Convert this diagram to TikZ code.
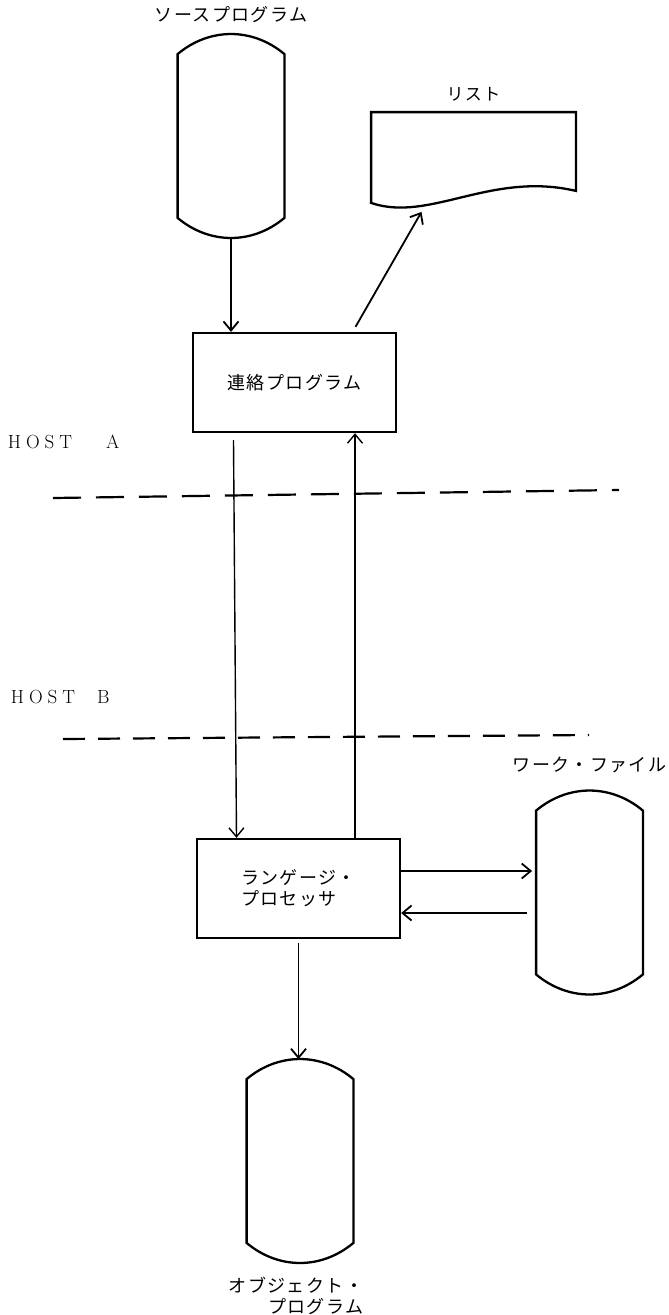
\documentclass[tikz,border=0pt]{standalone}
\usepackage{fontspec}
\usepackage{tikz}
\usetikzlibrary{arrows.meta,positioning}
\newfontfamily\jp[LetterSpace=8]{Noto Sans CJK JP}
\newcommand\drumline[1]{%
  \draw[shape line] ([yshift=-20pt]#1.north west) to[bend left=40] ([yshift=-20pt]#1.north east)
    -- ([yshift=20pt]#1.south east) to[bend left=40] ([yshift=20pt]#1.south west) -- cycle;}

\begin{document}
\begin{tikzpicture}[
    x=1pt,y=-1pt,
    box/.style={rectangle,draw,line width=2.3pt,minimum width=203pt,minimum height=99pt,
                align=left,font=\jp\fontsize{18}{21}\selectfont},
    drum/.style={rectangle,minimum width=105pt,minimum height=202pt,inner sep=0pt},
    lbl/.style={inner sep=0pt,font=\jp\fontsize{18}{21}\selectfont},
    host/.style={anchor=west,inner sep=0pt,font=\fontsize{19}{23}\selectfont},
    hostline/.style={line width=2.2pt,dash pattern=on 28pt off 15pt},
    shape line/.style={line width=2.3pt},
    >={Straight Barb[length=9pt,width=15pt]},line width=1.8pt
  ]
    \useasboundingbox (0,0) rectangle (669,1315);

    \node[drum] (src) at (231,136) {};
    \drumline{src}
    \node[lbl,above=10pt of src] (srclbl) {ソースプログラム};

    \node[rectangle,minimum width=203pt,minimum height=89pt] (lst) at (473.5,157.5) {};
    \draw[shape line] (lst.north west) -- (lst.north east) -- ([yshift=12pt]lst.south east)
      .. controls ([shift={(-85,-32)}]lst.south east) and ([shift={(58,20)}]lst.south west) .. (lst.south west) -- cycle;
    \node[lbl,above=10pt of lst,font=\jp\fontsize{17}{20}\selectfont] (lstlbl) {リスト};

    \node[box] (lnk) at (294.5,382.5) {連絡プログラム};
    \node[box] (lp) at (298.5,888.5) {ランゲージ・\\プロセッサ};

    \node[drum] (wrk) at (589.5,892.5) {};
    \drumline{wrk}
    \node[lbl,above=17pt of wrk] (wrklbl) {ワーク・ファイル};

    \node[drum] (obj) at (300,1161) {};
    \drumline{obj}
    \node[lbl,align=right,below=13pt of obj,xshift=-4pt] (objlbl) {オブジェクト・\\プログラム};

    \node[host] (hosta) at (7,442) {H\hspace{5pt}O\hspace{5pt}S\hspace{5pt}T\hspace{34pt}A};
    \node[host] (hostb) at (10,697) {H\hspace{5pt}O\hspace{5pt}S\hspace{5pt}T\hspace{22pt}B};
    \draw[hostline] (53,498) -- (619,490);
    \draw[hostline,dash pattern=on 22pt off 13pt] (63,739) -- (589,735);

    \draw[->] (src.south) -- (src.south |- lnk.north);
    \draw[->] ([xshift=61pt,yshift=5pt]lnk.north) -- ([xshift=-52pt,yshift=-9pt]lst.south);
    \draw[->,line width=1.4pt] ([xshift=-61pt,yshift=-7pt]lnk.south) -- ([xshift=-62pt]lp.north);
    \draw[->,line width=1.4pt] ([xshift=56.5pt]lp.north) -- ([xshift=60.5pt]lnk.south);
    \draw[->] ([yshift=17.5pt]lp.east) -- ([yshift=17.5pt,xshift=-4pt]lp.east -| wrk.west);
    \draw[->] ([yshift=-24.5pt,xshift=-9pt]lp.east -| wrk.west) -- ([yshift=-24.5pt]lp.east);
    \draw[->] ([yshift=-4pt]lp.south) -- (lp.south |- obj.north);
  \end{tikzpicture}
\end{document}
